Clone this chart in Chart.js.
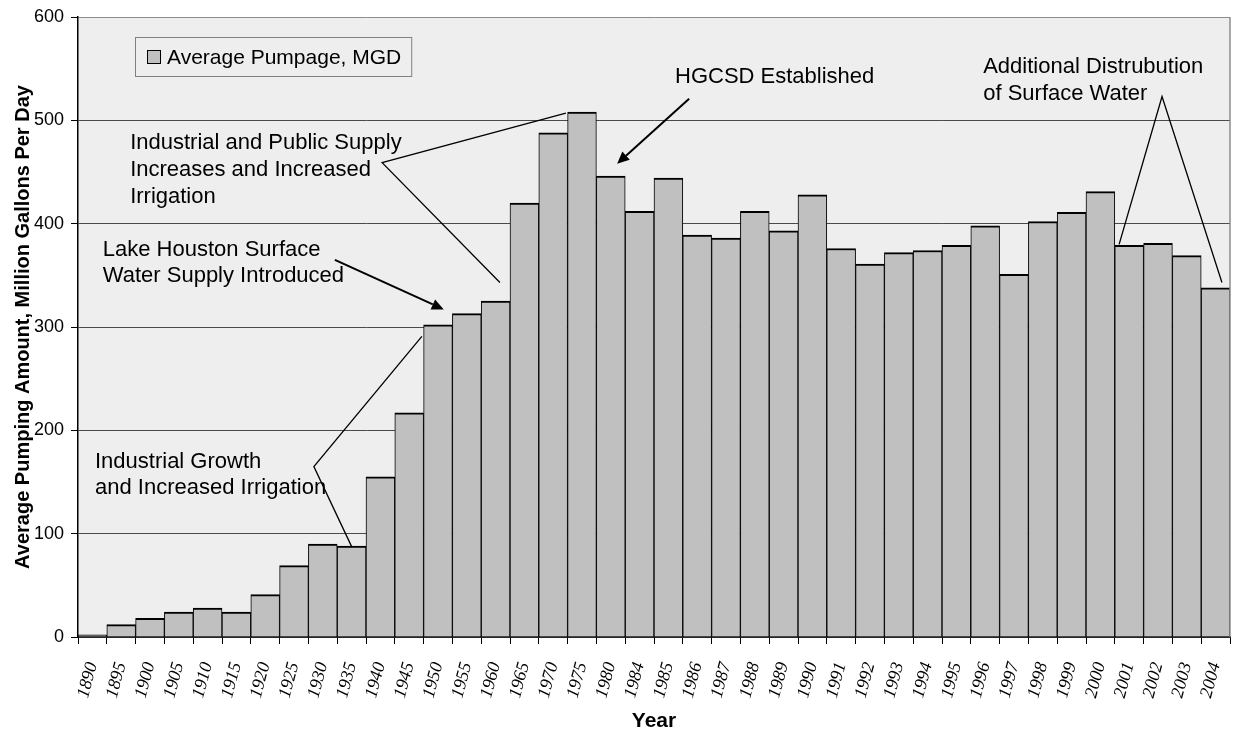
<!DOCTYPE html>
<html lang="en">
<head>
    <meta charset="UTF-8">
    <title>Average Pumpage, MGD</title>
    <script src="https://cdn.jsdelivr.net/npm/chart.js"></script>
    <style>
        html, body {
            margin: 0;
            padding: 0;
            background: #fff;
        }

        .chart-container {
            position: relative;
            width: 1233px;
            height: 732px;
        }
    </style>
</head>
<body>
<div class="chart-container">
    <canvas id="chart1"></canvas>
</div>

<script>
    // Categories on the X axis
    const years = ['1890', '1895', '1900', '1905', '1910', '1915', '1920', '1925', '1930', '1935',
        '1940', '1945', '1950', '1955', '1960', '1965', '1970', '1975', '1980', '1984',
        '1985', '1986', '1987', '1988', '1989', '1990', '1991', '1992', '1993', '1994',
        '1995', '1996', '1997', '1998', '1999', '2000', '2001', '2002', '2003', '2004'];

    // Average pumpage, million gallons per day
    const pumpage = [2, 12, 18, 24, 28, 24, 41, 69, 90, 88,
        155, 217, 302, 313, 325, 420, 488, 508, 446, 412,
        444, 389, 386, 412, 393, 428, 376, 361, 372, 374,
        379, 398, 351, 402, 411, 431, 379, 381, 369, 338];

    // Y axis tick labels
    const yTicks = [0, 100, 200, 300, 400, 500, 600];

    const seriesLabel = 'Average Pumpage, MGD';

    // Callouts: text anchored at [category index, value]
    const noteTexts = [
        {lines: ['Industrial and Public Supply', 'Increases and Increased', 'Irrigation'], at: [1.31, 478], step: 27},
        {lines: ['Lake Houston Surface', 'Water Supply Introduced'], at: [0.36, 375], step: 26},
        {lines: ['Industrial Growth', 'and Increased Irrigation'], at: [0.09, 169], step: 26},
        {lines: ['HGCSD Established'], at: [20.23, 542], step: 0},
        {lines: ['Additional Distrubution', 'of Surface Water'], at: [30.93, 552], step: 27}
    ];

    // Leader lines (polylines) and arrows, points as [category index, value]
    const leaderLines = [
        [[11.44, 291], [7.69, 165], [9.01, 87]],
        [[16.44, 507], [10.06, 459], [14.15, 343]],
        [[35.65, 380], [37.14, 523], [39.22, 343]]
    ];
    const arrows = [
        [[8.42, 365], [12.2, 317]],
        [[20.72, 521], [18.22, 458]]
    ];

    const SANS = 'Arial, "Liberation Sans", sans-serif';
    const SERIF = '"Times New Roman", "Liberation Serif", serif';

    function toPx(chart, p) {
        return [chart.scales.x.getPixelForValue(p[0]), chart.scales.y.getPixelForValue(p[1])];
    }

    // Plot background, frame, legend and callouts
    const notesPlugin = {
        id: 'notes',
        beforeDraw(chart) {
            const a = chart.chartArea;
            const ctx = chart.ctx;
            ctx.save();
            ctx.fillStyle = '#eeeeee';
            ctx.fillRect(a.left, a.top, a.right - a.left, a.bottom - a.top);
            ctx.restore();
        },
        afterDraw(chart) {
            const a = chart.chartArea;
            const ctx = chart.ctx;
            ctx.save();

            // right frame line
            ctx.strokeStyle = '#8c8c8c';
            ctx.lineWidth = 1.5;
            ctx.beginPath();
            ctx.moveTo(a.right, a.top);
            ctx.lineTo(a.right, a.bottom);
            ctx.stroke();

            // legend box
            ctx.font = '21px ' + SANS;
            const tw = ctx.measureText(seriesLabel).width;
            const lx = a.left + 57, ly = a.top + 20;
            const lw = tw + 42, lh = 39;
            ctx.fillStyle = '#eeeeee';
            ctx.fillRect(lx, ly, lw, lh);
            ctx.strokeStyle = '#808080';
            ctx.lineWidth = 1;
            ctx.strokeRect(lx + 0.5, ly + 0.5, lw, lh);
            ctx.fillStyle = '#c0c0c0';
            ctx.fillRect(lx + 12, ly + 13, 14, 14);
            ctx.strokeStyle = '#000';
            ctx.strokeRect(lx + 12.5, ly + 13.5, 13, 13);
            ctx.fillStyle = '#000';
            ctx.textBaseline = 'middle';
            ctx.textAlign = 'left';
            ctx.fillText(seriesLabel, lx + 32, ly + 21);

            // callout texts
            ctx.font = '22px ' + SANS;
            noteTexts.forEach(n => {
                const [x, y] = toPx(chart, n.at);
                n.lines.forEach((line, i) => ctx.fillText(line, x, y + i * n.step));
            });

            // leader lines
            ctx.strokeStyle = '#000';
            ctx.lineWidth = 1.3;
            leaderLines.forEach(pts => {
                ctx.beginPath();
                pts.forEach((p, i) => {
                    const [x, y] = toPx(chart, p);
                    if (i === 0) ctx.moveTo(x, y); else ctx.lineTo(x, y);
                });
                ctx.stroke();
            });

            // arrows
            ctx.lineWidth = 2;
            arrows.forEach(([from, to]) => {
                const [x1, y1] = toPx(chart, from);
                const [x2, y2] = toPx(chart, to);
                const ang = Math.atan2(y2 - y1, x2 - x1);
                const len = 12, half = 5.5;
                const bx = x2 - len * Math.cos(ang), by = y2 - len * Math.sin(ang);
                ctx.beginPath();
                ctx.moveTo(x1, y1);
                ctx.lineTo(bx, by);
                ctx.stroke();
                ctx.beginPath();
                ctx.moveTo(x2, y2);
                ctx.lineTo(bx + half * Math.sin(ang), by - half * Math.cos(ang));
                ctx.lineTo(bx - half * Math.sin(ang), by + half * Math.cos(ang));
                ctx.closePath();
                ctx.fillStyle = '#000';
                ctx.fill();
            });

            ctx.restore();
        }
    };

    const ctx = document.getElementById('chart1').getContext('2d');
    const chart = new Chart(ctx, {
        type: 'bar',
        data: {
            labels: years,
            datasets: [{
                label: seriesLabel,
                data: pumpage,
                backgroundColor: '#c0c0c0',
                borderColor: '#000',
                borderWidth: {top: 2, left: 1, right: 1, bottom: 0},
                borderSkipped: false,
                barPercentage: 1,
                categoryPercentage: 1
            }]
        },
        options: {
            responsive: true,
            maintainAspectRatio: false,
            animation: false,
            layout: {
                padding: {left: 0, top: 17, right: 3, bottom: 0}
            },
            plugins: {
                legend: {display: false},
                tooltip: {enabled: false}
            },
            scales: {
                x: {
                    grid: {
                        offset: true,
                        drawOnChartArea: false,
                        drawTicks: true,
                        tickLength: 7,
                        tickColor: '#000'
                    },
                    border: {color: '#000', width: 1.5},
                    ticks: {
                        autoSkip: false,
                        minRotation: 75,
                        maxRotation: 75,
                        padding: 16,
                        color: '#000',
                        font: {family: SERIF, style: 'italic', size: 18}
                    },
                    title: {
                        display: true,
                        text: 'Year',
                        color: '#000',
                        font: {family: SANS, weight: 'bold', size: 21, lineHeight: 1},
                        padding: 0
                    },
                    afterFit(scale) {
                        scale.height = 95;
                        scale.paddingLeft = 0;
                        scale.paddingRight = 0;
                    }
                },
                y: {
                    min: 0,
                    max: 600,
                    afterBuildTicks(scale) {
                        scale.ticks = yTicks.map(v => ({value: v}));
                    },
                    grid: {
                        color: c => (c.tick && c.tick.value === 600) ? '#8c8c8c' : '#4a4a4a',
                        lineWidth: 1,
                        drawTicks: true,
                        tickLength: 7,
                        tickColor: '#000'
                    },
                    border: {color: '#000', width: 1.5},
                    ticks: {
                        padding: 7,
                        color: '#000',
                        font: {family: SANS, size: 18}
                    },
                    title: {
                        display: true,
                        text: 'Average Pumping Amount, Million Gallons Per Day',
                        color: '#000',
                        font: {family: SANS, weight: 'bold', size: 20},
                        padding: {top: 11, bottom: 0}
                    },
                    afterFit(scale) {
                        scale.width = 78;
                        scale.paddingTop = 0;
                        scale.paddingBottom = 0;
                    }
                }
            }
        },
        plugins: [notesPlugin]
    });
</script>
</body>
</html>
